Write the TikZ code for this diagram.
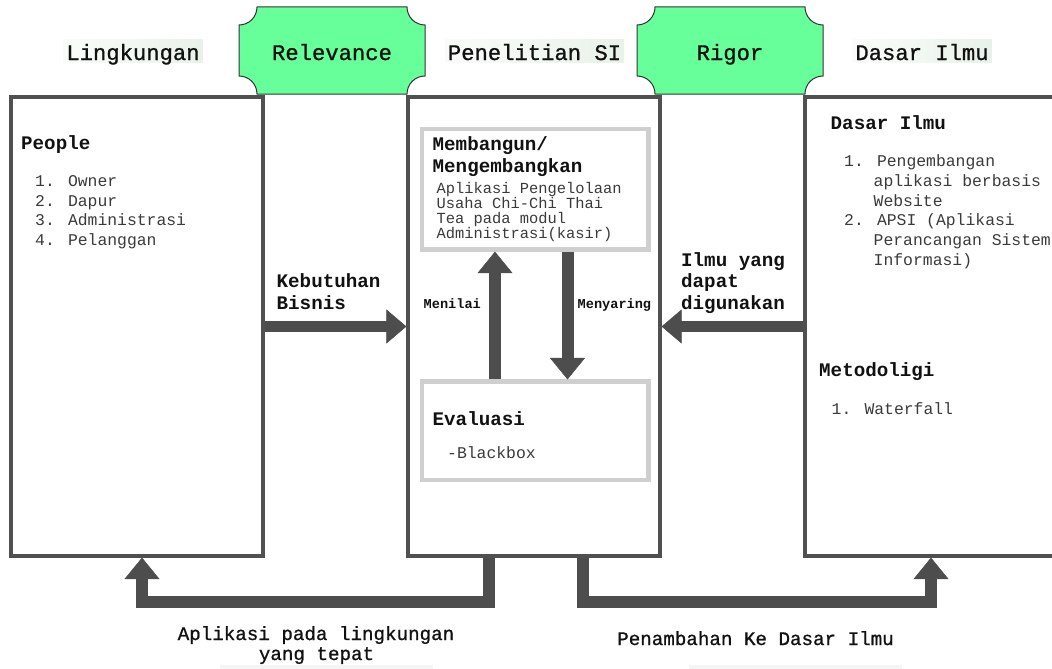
\documentclass[tikz,border=0pt]{standalone}
\usepackage{fontspec}
\setmainfont{Liberation Mono}
\newfontfamily\hdrfont{Liberation Mono}[FakeBold=0.9]
\usetikzlibrary{arrows.meta,calc}
\definecolor{cBox}{HTML}{505050}
\definecolor{cInner}{HTML}{CFCFCF}
\definecolor{cTag}{HTML}{66FF99}
\definecolor{cTagLine}{HTML}{333333}
\definecolor{cArrow}{HTML}{4D4D4D}
\definecolor{cHdrL}{HTML}{FAFCFA}
\definecolor{cHdrR}{HTML}{E8F2E8}
\definecolor{cList}{HTML}{3A3A3A}
\definecolor{cTxt}{HTML}{111111}
\definecolor{cFaint}{HTML}{F5F5F5}
\newcommand\drawtagshape[4]{%
  \draw[tagshape] (#1+18,#2) -- (#3-18,#2)
    .. controls (#3-18,#2+9.94) and (#3-9.94,#2+18) .. (#3,#2+18)
    -- (#3,#4-18)
    .. controls (#3-9.94,#4-18) and (#3-18,#4-9.94) .. (#3-18,#4)
    -- (#1+18,#4)
    .. controls (#1+18,#4-9.94) and (#1+9.94,#4-18) .. (#1,#4-18)
    -- (#1,#2+18)
    .. controls (#1+9.94,#2+18) and (#1+18,#2+9.94) .. cycle;}
\begin{document}
\begin{tikzpicture}[x=1pt,y=-1pt,
  box/.style={draw=cBox, line width=3.2pt, minimum width=252, minimum height=459, inner sep=0},
  inbox/.style={draw=cInner, line width=4.3pt, minimum width=226.6, inner sep=0},
  tagshape/.style={draw=cTagLine, fill=cTag, line width=1pt},
  hdr/.style={font=\hdrfont\fontsize{22.2}{26}\selectfont, text=cTxt, anchor=base, inner xsep=3, inner ysep=1.5, text height=18.5, text depth=1.5},
  hdrbg/.style={hdr, left color=cHdrL, right color=cHdrR},
  ttl/.style={font=\bfseries\fontsize{19.2}{22}\selectfont, text=cTxt, anchor=base west, inner sep=0},
  lst/.style={font=\fontsize{16.4}{19.7}\selectfont, text=cList, anchor=base west, inner sep=0},
  sml/.style={font=\fontsize{15.4}{15}\selectfont, text=cList, anchor=base west, inner sep=0},
  lbl/.style={font=\bfseries\fontsize{13.6}{15}\selectfont, text=cTxt, anchor=base west, inner sep=0},
  bot/.style={font=\hdrfont\fontsize{19.2}{22}\selectfont, text=cTxt, anchor=base, inner sep=0},
  blkh/.style={draw=cArrow, line width=11pt, -{Triangle[width=34pt,length=20pt,line width=0.5pt]}},
  blkv/.style={draw=cArrow, line width=12pt, -{Triangle[width=35pt,length=21.5pt,line width=0.5pt]}}]
\useasboundingbox (0,0) rectangle (1052,669);
\clip (0,0) rectangle (1052,669);

% main boxes
\node[box] (L) at (137,326.5) {};
\node[box] (M) at (534,326.5) {};
\node[box, minimum width=500] (R) at (1055,326.5) {};

% inner boxes
\node[inbox, minimum height=120.8] (Mb) at (535.3,189.1) {};
\node[inbox, minimum height=98.1] (Ev) at (535.3,430.65) {};

% tags
\drawtagshape{239}{7}{425}{94}
\drawtagshape{637}{7}{823}{94}
\node[hdr] (relevance) at (332,60) {Relevance};
\node[hdr] (rigor) at (730,60) {Rigor};

% headers
\node[hdrbg] (hLing) at (133,60) {Lingkungan};
\node[hdrbg] (hPen) at (534.5,60) {Penelitian SI};
\node[hdrbg] (hDas) at (922,60) {Dasar Ilmu};

% left box text
\node[ttl] (people) at (21,149) {People};
\node[lst] (p1) at (35,186.5) {1. Owner};
\node[lst] (p2) at (35,206.2) {2. Dapur};
\node[lst] (p3) at (35,225.9) {3. Administrasi};
\node[lst] (p4) at (35,245.6) {4. Pelanggan};

% Kebutuhan Bisnis
\node[ttl] (keb1) at (276.5,287.3) {Kebutuhan};
\node[ttl] (keb2) at (276.5,309.3) {Bisnis};

% Membangun box text
\node[ttl] (mb1) at (432.5,150) {Membangun/};
\node[ttl] (mb2) at (432.5,172.3) {Mengembangkan};
\node[sml] (ap1) at (436.5,193.3) {Aplikasi Pengelolaan};
\node[sml] (ap2) at (436.5,208.3) {Usaha Chi-Chi Thai};
\node[sml] (ap3) at (436.5,223.3) {Tea pada modul};
\node[sml] (ap4) at (436.5,238.3) {Administrasi(kasir)};

% Menilai / Menyaring
\node[lbl] (menilai) at (423.5,308.3) {Menilai};
\node[lbl] (menyaring) at (577.5,308.3) {Menyaring};

% Evaluasi
\node[ttl] (eval) at (432.5,425) {Evaluasi};
\node[lst] (bb) at (447,458.3) {-Blackbox};

% Ilmu yang dapat digunakan
\node[ttl] (il1) at (681,266.7) {Ilmu yang};
\node[ttl] (il2) at (681,287.8) {dapat};
\node[ttl] (il3) at (681,309.3) {digunakan};

% right box text
\node[ttl] (dasar) at (830.5,129.3) {Dasar Ilmu};
\node[lst] (d1) at (844,166.7) {1. Pengembangan};
\node[lst] (d2) at (873.5,186.4) {aplikasi berbasis};
\node[lst] (d3) at (873.5,206.1) {Website};
\node[lst] (d4) at (844,225.8) {2. APSI (Aplikasi};
\node[lst] (d5) at (873.5,245.5) {Perancangan Sistem};
\node[lst] (d6) at (873.5,265.2) {Informasi)};
\node[ttl] (meto) at (819,376) {Metodoligi};
\node[lst] (w1) at (831.5,414) {1. Waterfall};

% arrows
\draw[blkh] (L) -- (M);
\draw[blkh] (R) -- (M);
\draw[blkv] ($(Ev.north)+(-40.3,0)$) -- ($(Mb.south)+(-40.3,0)$);
\draw[blkv] ($(Mb.south)+(32.2,0)$) -- ($(Ev.north)+(32.2,0)$);
\draw[blkv] ($(M.south)+(-45,0)$) -- ++(0,44) -| ($(L.south)+(5,0)$);
\draw[blkv] ($(M.south)+(49,0)$) -- ++(0,44) -| ($(R.south)+(-124,0)$);

% bottom labels
\fill[cFaint] (220,665) rectangle (433,669);
\fill[cFaint] (689,665) rectangle (902,669);
\node[bot] (apl1) at (316,640) {Aplikasi pada lingkungan};
\node[bot] (apl2) at (316.5,660) {yang tepat};
\node[bot] (pen) at (755.5,645) {Penambahan Ke Dasar Ilmu};
\end{tikzpicture}
\end{document}
